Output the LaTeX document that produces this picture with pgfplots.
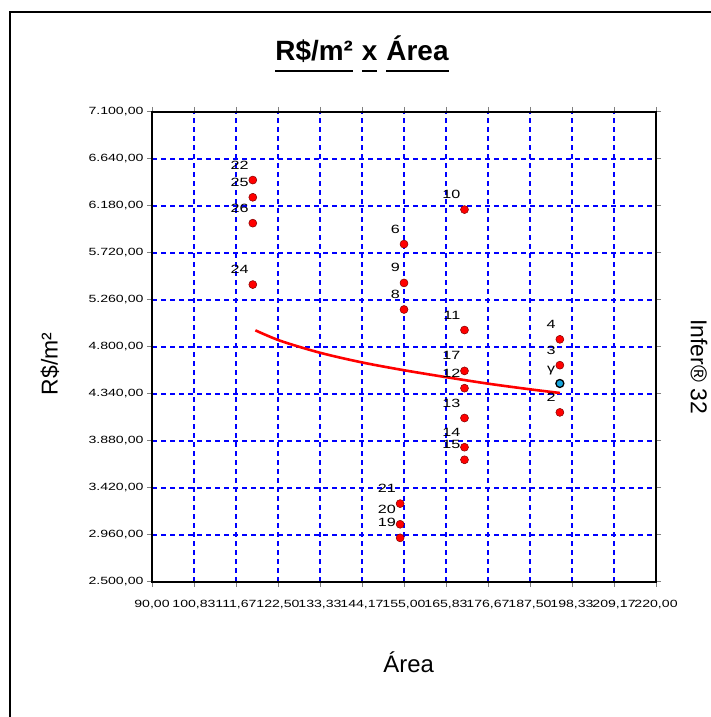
\documentclass[border=0pt]{standalone}
\usepackage{fontspec}
\setmainfont{Liberation Sans}
\newfontfamily\tickfont[FakeStretch=1.35]{Liberation Sans}
\usepackage{pgfplots}
\pgfplotsset{compat=1.18}
\newcommand\ul[1]{\setbox0\hbox{#1}\rlap{\rule[-11bp]{\wd0}{2bp}}\box0}
\begin{document}
\begin{tikzpicture}[x=1bp,y=1bp]
\useasboundingbox (0,0) rectangle (711,717);
\draw[line width=2bp] (10,0) -- (10,705) -- (711,705);
\begin{axis}[at={(152bp,135bp)}, anchor=south west, scale only axis,
  width=504bp, height=470bp,
  xmin=90, xmax=220, ymin=2500, ymax=7100,
  xtick={90,100.8333,111.6667,122.5,133.3333,144.1667,155,165.8333,176.6667,187.5,198.3333,209.1667,220},
  xticklabels={{90,00},{100,83},{111,67},{122,50},{133,33},{144,17},{155,00},{165,83},{176,67},{187,50},{198,33},{209,17},{220,00}},
  ytick={2500,2960,3420,3880,4340,4800,5260,5720,6180,6640,7100},
  yticklabels={{2.500,00},{2.960,00},{3.420,00},{3.880,00},{4.340,00},{4.800,00},{5.260,00},{5.720,00},{6.180,00},{6.640,00},{7.100,00}},
  xmajorgrids=true, ymajorgrids=true,
  every major grid/.style={draw=blue, line width=2bp, dash pattern=on 5bp off 4bp},
  axis line style={line width=2bp},
  major tick style={line width=1bp},
  tick align=outside, major tick length=5bp,
  ticklabel style={font=\tickfont\fontsize{10.5}{12}\selectfont},
  xticklabel style={yshift=-10bp},
  clip=false,
]
\addplot[red, line width=2.6bp, smooth] table {
x y
116.67 4963
123.14 4860
133.50 4742
144.30 4648
155.07 4572
166.31 4502
177.08 4439
187.88 4384
195.21 4350
};
\addplot[only marks, mark=*, mark size=4bp,
  mark options={fill=red, draw=red!50!black, line width=0.5bp},
  nodes near coords, point meta=explicit symbolic,
  every node near coord/.append style={anchor=base east, inner sep=0pt, xshift=-4bp, yshift=11bp, black, font=\tickfont\fontsize{12}{14}\selectfont}]
table[meta=label] {
x y label
116 6434 22
116 6265 25
116 6012 26
116 5411 24
155 5807 6
155 5427 9
155 5167 8
170.6 6145 10
170.6 4966 11
170.6 4566 17
170.6 4397 12
170.6 4105 13
170.6 3819 14
170.6 3696 15
154 3267 21
154 3065 20
154 2932 19
195.2 4875 4
195.2 4622 3
195.2 4160 2
};
\addplot[only marks, mark=*, mark size=4bp,
  mark options={fill=cyan!80!teal, draw=black, line width=1.3bp},
  nodes near coords, point meta=explicit symbolic,
  every node near coord/.append style={anchor=base east, inner sep=0pt, xshift=-4bp, yshift=11bp, black, font=\tickfont\fontsize{12}{14}\selectfont}]
table[meta=label] {
x y label
195.2 4443 γ
};
\end{axis}
\node[anchor=base, font=\fontsize{28}{32}\selectfont\bfseries] at (362,656.3) {\ul{R\$/m²}\hspace{9bp}\ul{x}\hspace{9bp}\ul{Área}};
\node[rotate=90, font=\fontsize{23}{26}\selectfont] at (50,353) {R\$/m²};
\node[rotate=-90, font=\fontsize{23}{26}\selectfont] at (699,350.5) {Infer® 32};
\node[anchor=base, font=\fontsize{24}{28}\selectfont] at (408.7,44) {Área};
\end{tikzpicture}
\end{document}
